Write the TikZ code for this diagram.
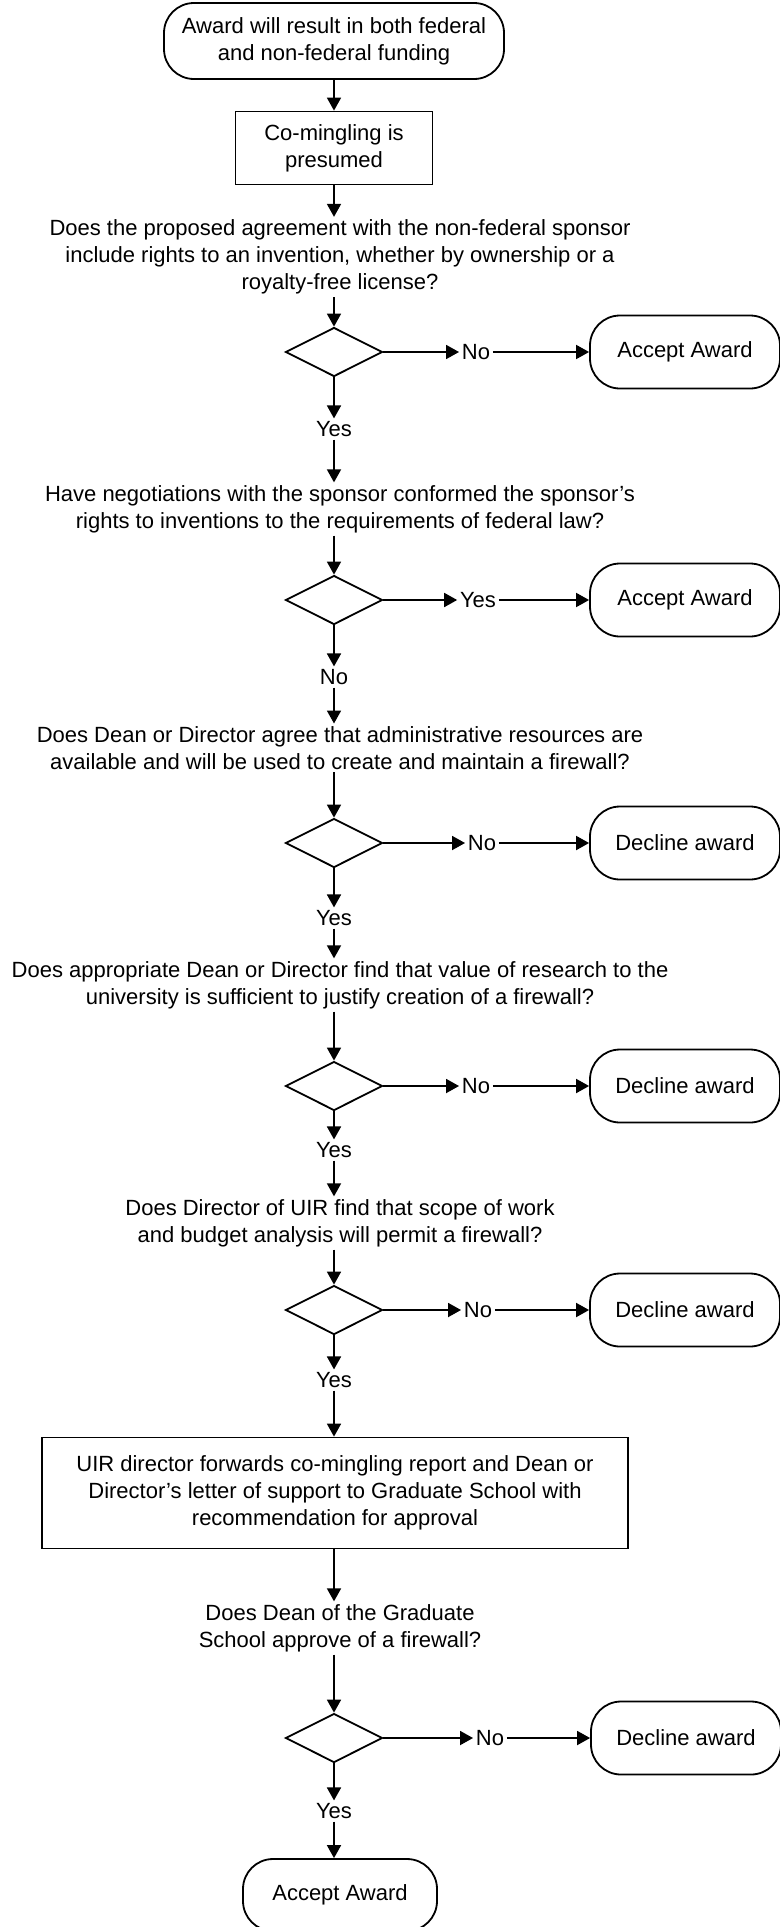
\documentclass[tikz,border=0pt]{standalone}
\usepackage{fontspec}
\setmainfont{Liberation Sans}
\usetikzlibrary{shapes.geometric,arrows.meta}

\begin{document}
\begin{tikzpicture}[x=0.5pt, y=-0.5pt, line width=0.9pt, >={Triangle[length=6.5pt,width=7pt]},
  every node/.style={font=\fontsize{11pt}{13.5pt}\selectfont, align=center, inner sep=1pt},
  terminal/.style={draw, rounded corners=15pt, minimum width=95pt, minimum height=36.5pt},
  process/.style={draw, rectangle},
  decision/.style={draw, diamond, minimum width=48.5pt, minimum height=24.5pt, inner sep=0pt}]
\useasboundingbox (0,0) rectangle (780,1927);
\node[terminal, minimum width=170pt, minimum height=38pt] (start) at (334,41) {Award will result in both federal\\and non-federal funding};
\node[process, minimum width=98.5pt, minimum height=36.5pt] (mingle) at (334,148) {Co-mingling is\\presumed};
\node (q1) at (340,257) {Does the proposed agreement with the non-federal sponsor\\include rights to an invention, whether by ownership or a\\royalty-free license?};
\node[decision] (d1) at (334,352) {};
\node (no1) at (476,352) {No};
\node[terminal] (acc1) at (685,352) {Accept Award};
\node (yes1) at (334,429) {Yes};
\node (q2) at (340,509) {Have negotiations with the sponsor conformed the sponsor's\\rights to inventions to the requirements of federal law?};
\node[decision] (d2) at (334,600) {};
\node (yes2) at (478,600) {Yes};
\node[terminal] (acc2) at (685,600) {Accept Award};
\node (no2) at (334,677) {No};
\node (q3) at (340,748) {Does Dean or Director agree that administrative resources are\\available and will be used to create and maintain a firewall?};
\node[decision] (d3) at (334,843) {};
\node (no3) at (482,843) {No};
\node[terminal] (dec3) at (685,843) {Decline award};
\node (yes3) at (334,918) {Yes};
\node (q4) at (340,985) {Does appropriate Dean or Director find that value of research to the\\university is sufficient to justify creation of a firewall?};
\node[decision] (d4) at (334,1086) {};
\node (no4) at (476,1086) {No};
\node[terminal] (dec4) at (685,1086) {Decline award};
\node (yes4) at (334,1150) {Yes};
\node (q5) at (340,1223) {Does Director of UIR find that scope of work\\and budget analysis will permit a firewall?};
\node[decision] (d5) at (334,1310) {};
\node (no5) at (478,1310) {No};
\node[terminal] (dec5) at (685,1310) {Decline award};
\node (yes5) at (334,1380) {Yes};
\node[process, minimum width=293pt, minimum height=55.5pt] (report) at (335,1493) {UIR director forwards co-mingling report and Dean or\\Director's letter of support to Graduate School with\\recommendation for approval};
\node (q6) at (340,1628) {Does Dean of the Graduate\\School approve of a firewall?};
\node[decision] (d6) at (334,1738) {};
\node (no6) at (490,1738) {No};
\node[terminal] (dec6) at (686,1738) {Decline award};
\node (yes6) at (334,1811) {Yes};
\node[terminal, fill=white, minimum width=97pt, minimum height=36pt] (acc6) at (340,1895) {Accept Award};
\draw[->] (start) -- (mingle);
\draw[->] (mingle) -- (mingle |- q1.north);
\draw[->] (d1 |- q1.south) -- (d1);
\draw[->] (d1) -- (no1);
\draw[->] (no1) -- (acc1);
\draw[->] (d1) -- (yes1);
\draw[->] (yes1) -- (yes1 |- q2.north);
\draw[->] (d2 |- q2.south) -- (d2);
\draw[->] (d2) -- (yes2);
\draw[->] (yes2) -- (acc2);
\draw[->] (d2) -- (no2);
\draw[->] (no2) -- (no2 |- q3.north);
\draw[->] (d3 |- q3.south) -- (d3);
\draw[->] (d3) -- (no3);
\draw[->] (no3) -- (dec3);
\draw[->] (d3) -- (yes3);
\draw[->] (yes3) -- (yes3 |- q4.north);
\draw[->] (d4 |- q4.south) -- (d4);
\draw[->] (d4) -- (no4);
\draw[->] (no4) -- (dec4);
\draw[->] (d4) -- (yes4);
\draw[->] (yes4) -- (yes4 |- q5.north);
\draw[->] (d5 |- q5.south) -- (d5);
\draw[->] (d5) -- (no5);
\draw[->] (no5) -- (dec5);
\draw[->] (d5) -- (yes5);
\draw[->] (yes5) -- (yes5 |- report.north);
\draw[->] (yes5 |- report.south) -- (yes5 |- q6.north);
\draw[->] (d6 |- q6.south) -- (d6);
\draw[->] (d6) -- (no6);
\draw[->] (no6) -- (dec6);
\draw[->] (d6) -- (yes6);
\draw[->] (yes6) -- (yes6 |- acc6.north);
\end{tikzpicture}
\end{document}
